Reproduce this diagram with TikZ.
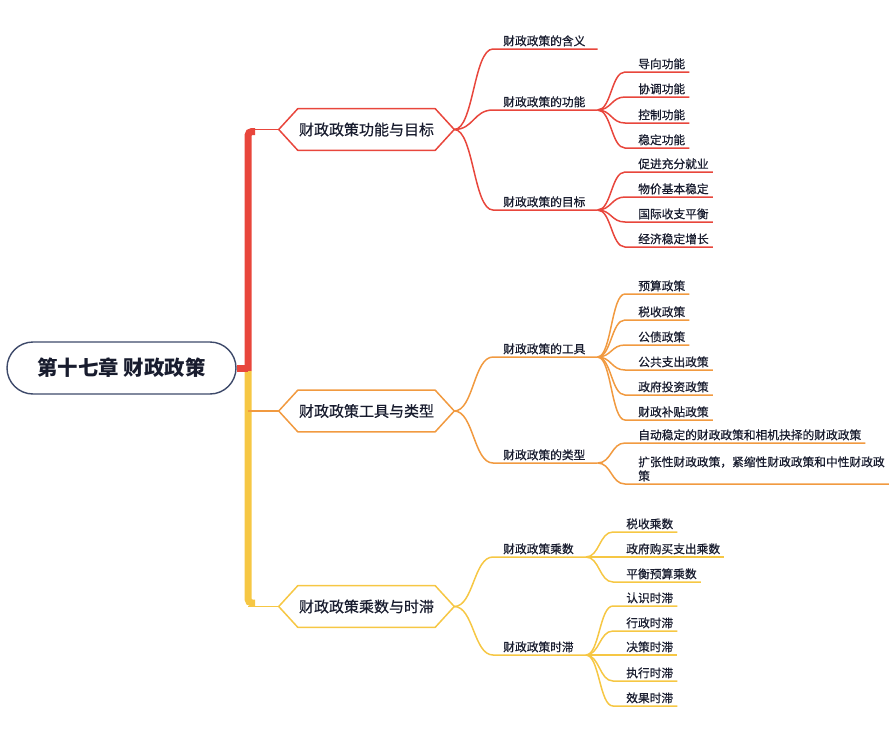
\documentclass[tikz,border=0pt]{standalone}
\usepackage{fontspec}
\setmainfont{Noto Sans CJK SC}
\newfontfamily\medfont{Noto Sans CJK SC}[FakeBold=0.6]
\usetikzlibrary{calc}
\newlength\pxu
\setlength\pxu{0.75pt}
\definecolor{cred}{HTML}{E8463C}
\definecolor{corange}{HTML}{F19A40}
\definecolor{cyellow}{HTML}{F6C744}
\definecolor{croot}{HTML}{3E4A6A}
\definecolor{ctext}{HTML}{181C2E}
\newcommand\hexdraw[2]{\draw[#2,line width=1.5\pxu,line join=round] (#1.west) -- ([xshift=19\pxu]#1.north west) -- ([xshift=-19\pxu]#1.north east) -- (#1.east) -- ([xshift=-19\pxu]#1.south east) -- ([xshift=19\pxu]#1.south west) -- cycle;}
\newcommand\kid[3]{\draw[#3,line width=1.5\pxu] (#1) to[scurve] (#2.south west) -- (#2.south east);}
\begin{document}
\begin{tikzpicture}[x=0.75pt,y=-0.75pt,
  hexnode/.style={minimum width=175\pxu,minimum height=41\pxu,inner sep=0pt,font=\medfont\fontsize{11.25}{13}\selectfont,text=ctext},
  lbase/.style={anchor=south west,inner sep=0pt,font=\medfont\fontsize{8.8}{10.5}\selectfont,text=ctext,text height=10.5\pxu,text depth=3.4\pxu},
  ltwo/.style={lbase,execute at begin node={\hspace*{10\pxu}},execute at end node={\hspace*{12\pxu}}},
  lthree/.style={lbase,execute at begin node={\hspace*{13\pxu}},execute at end node={\hspace*{4\pxu}}},
  rootnode/.style={draw=croot,line width=1.4\pxu,rounded corners=26\pxu,minimum width=229\pxu,minimum height=52\pxu,inner sep=0pt,font=\fontsize{15.3}{18}\selectfont\bfseries,text=ctext},
  trunk/.style={line width=7\pxu},
  thin/.style={line width=1.5\pxu},
  scurve/.style={to path={let \p1=(\tikztostart), \p2=(\tikztotarget) in .. controls ({0.5*\x1+0.5*\x2},\y1) and ({0.5*\x1+0.5*\x2},\y2) .. (\tikztotarget) \tikztonodes}}
]
\useasboundingbox (0,0) rectangle (894,739);
% root
\node[rootnode] (root) at (121.5,368) {第十七章 财政政策};
% hexagons
\node[hexnode] (h1) at (366.5,129.5) {财政政策功能与目标};
\node[hexnode] (h2) at (366.5,411) {财政政策工具与类型};
\node[hexnode] (h3) at (366.5,606.5) {财政政策乘数与时滞};
\hexdraw{h1}{cred}
\hexdraw{h2}{corange}
\hexdraw{h3}{cyellow}
% trunk
\coordinate (tk) at (248,131.5);
\coordinate (tm) at (248,371);
\coordinate (tb) at (248,603);
\draw[cred,trunk,rounded corners=4\pxu] (tm) -- (tk) -- ++(7,0);
\draw[cyellow,trunk,rounded corners=4\pxu] (tm) -- (tb) -- ++(7,0);
\draw[cred,trunk] (root.east) -- (root.east -| tk);
\draw[cred,thin] (tk |- h1.west) -- (h1.west);
\draw[corange,thin] (tk |- h2.west) -- (h2.west);
\draw[cyellow,thin] (tk |- h3.west) -- (h3.west);
% branch 1
\node[ltwo] (b11) at (493,49) {财政政策的含义};
\node[ltwo] (b12) at (493,110) {财政政策的功能};
\node[ltwo] (b13) at (493,210) {财政政策的目标};
\node[lthree] (c121) at (625,72) {导向功能};
\node[lthree] (c122) at (625,97) {协调功能};
\node[lthree] (c123) at (625,123) {控制功能};
\node[lthree] (c124) at (625,148) {稳定功能};
\node[lthree] (c131) at (625,172) {促进充分就业};
\node[lthree] (c132) at (625,197) {物价基本稳定};
\node[lthree] (c133) at (625,222) {国际收支平衡};
\node[lthree] (c134) at (625,247) {经济稳定增长};
\kid{h1.east}{b11}{cred}
\kid{h1.east}{b12}{cred}
\kid{h1.east}{b13}{cred}
\kid{b12.south east}{c121}{cred}
\kid{b12.south east}{c122}{cred}
\kid{b12.south east}{c123}{cred}
\kid{b12.south east}{c124}{cred}
\kid{b13.south east}{c131}{cred}
\kid{b13.south east}{c132}{cred}
\kid{b13.south east}{c133}{cred}
\kid{b13.south east}{c134}{cred}
% branch 2
\node[ltwo] (b21) at (493,357) {财政政策的工具};
\node[ltwo] (b22) at (493,463) {财政政策的类型};
\node[lthree] (c211) at (625,294) {预算政策};
\node[lthree] (c212) at (625,320) {税收政策};
\node[lthree] (c213) at (625,345) {公债政策};
\node[lthree] (c214) at (625,370) {公共支出政策};
\node[lthree] (c215) at (625,395) {政府投资政策};
\node[lthree] (c216) at (625,420) {财政补贴政策};
\node[lthree] (c221) at (625,443) {自动稳定的财政政策和相机抉择的财政政策};
\node[lthree] (c222) at (625,470) {扩张性财政政策，紧缩性财政政策和中性财政政};
\node[lthree,execute at end node={}] (c222b) at (625,484) {策};
\kid{h2.east}{b21}{corange}
\kid{h2.east}{b22}{corange}
\kid{b21.south east}{c211}{corange}
\kid{b21.south east}{c212}{corange}
\kid{b21.south east}{c213}{corange}
\kid{b21.south east}{c214}{corange}
\kid{b21.south east}{c215}{corange}
\kid{b21.south east}{c216}{corange}
\kid{b22.south east}{c221}{corange}
\draw[corange,thin] (b22.south east) to[scurve] (c222b.south west) -- (c222b.south west -| c222.south east);
% branch 3
\node[ltwo] (b31) at (493,557) {财政政策乘数};
\node[ltwo] (b32) at (493,655) {财政政策时滞};
\node[lthree] (c311) at (613,532) {税收乘数};
\node[lthree] (c312) at (613,557) {政府购买支出乘数};
\node[lthree] (c313) at (613,582) {平衡预算乘数};
\node[lthree] (c321) at (613,606) {认识时滞};
\node[lthree] (c322) at (613,631) {行政时滞};
\node[lthree] (c323) at (613,655) {决策时滞};
\node[lthree] (c324) at (613,681) {执行时滞};
\node[lthree] (c325) at (613,706) {效果时滞};
\kid{h3.east}{b31}{cyellow}
\kid{h3.east}{b32}{cyellow}
\kid{b31.south east}{c311}{cyellow}
\kid{b31.south east}{c312}{cyellow}
\kid{b31.south east}{c313}{cyellow}
\kid{b32.south east}{c321}{cyellow}
\kid{b32.south east}{c322}{cyellow}
\kid{b32.south east}{c323}{cyellow}
\kid{b32.south east}{c324}{cyellow}
\kid{b32.south east}{c325}{cyellow}
\end{tikzpicture}
\end{document}
